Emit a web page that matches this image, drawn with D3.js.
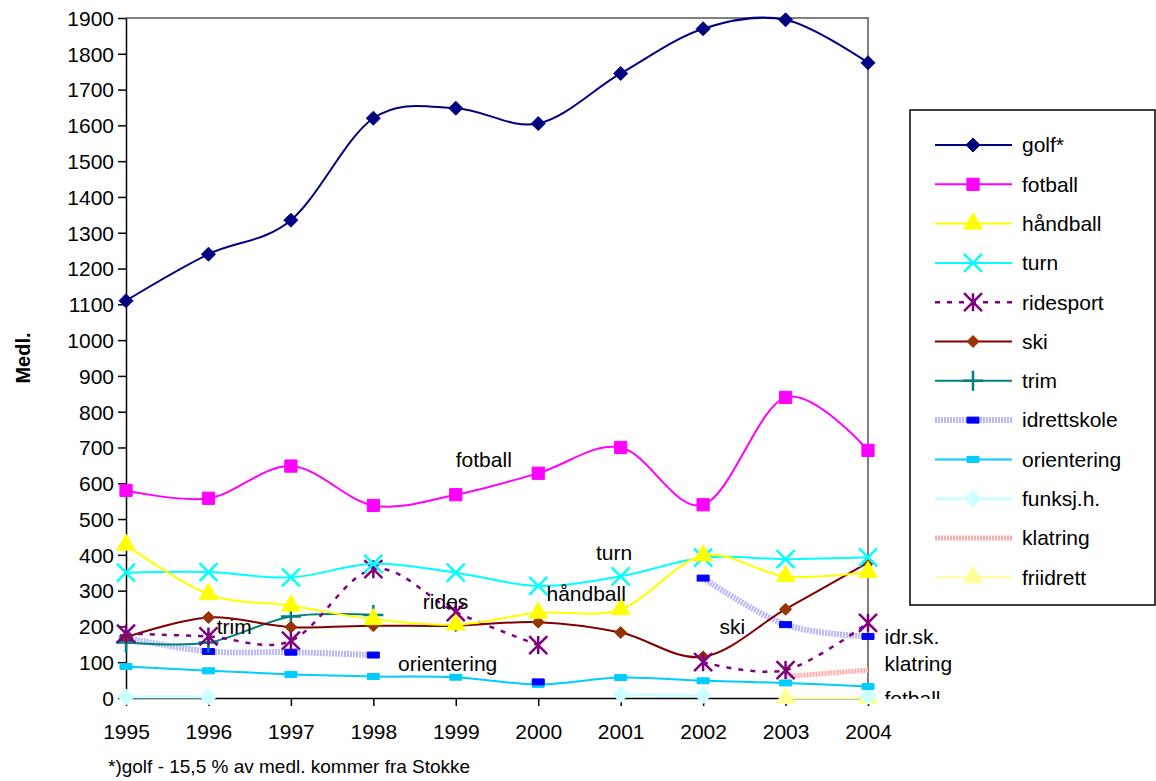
<!DOCTYPE html>
<html><head><meta charset="utf-8">
<script src="https://cdn.jsdelivr.net/npm/d3@7"></script>
<style>body{margin:0;background:#fff;font-family:"Liberation Sans",Arial,sans-serif}</style>
</head><body>
<script>
var width = 1156, height = 781;
var years = [1995,1996,1997,1998,1999,2000,2001,2002,2003,2004];
var yTicks = d3.range(0, 2000, 100);

var golf        = [1110,1240,1335,1620,1648,1605,1745,1870,1895,1775];
var fotball     = [580,558,648,538,568,628,700,540,840,692];
var handball    = [428,290,258,220,205,238,248,398,340,352];
var turn        = [350,352,337,375,350,313,340,392,388,393];
var ridesport   = [180,172,160,360,240,148,null,100,78,210];
var ski         = [170,225,198,202,202,212,183,115,248,378];
var trim        = [155,155,228,232,null,null,null,null,null,null];
var idrettskole = [168,130,128,120,null,45,null,335,205,172];
var orientering = [88,76,66,60,58,38,57,48,42,32];
var funksjh     = [3,3,null,null,null,null,10,7,null,5];
var klatring    = [null,null,null,null,null,null,null,null,60,78];
var friidrett   = [null,null,null,null,null,null,null,null,0,0];

var series = [
  {name:"golf*", v:golf, color:"#000080", width:2, marker:"diamond", mcolor:"#000080", size:7},
  {name:"fotball", v:fotball, color:"#ff00ff", width:2, marker:"square", mcolor:"#ff00ff", size:150},
  {name:"håndball", v:handball, color:"#ffff00", width:2, marker:"triangle", mcolor:"#ffff00", size:150},
  {name:"turn", v:turn, color:"#00ffff", width:2, marker:"x", mcolor:"#00ffff", size:9},
  {name:"ridesport", v:ridesport, color:"#800080", width:2.5, dash:"5,7", marker:"star", mcolor:"#800080", size:9},
  {name:"ski", v:ski, color:"#800000", width:2, marker:"diamond", mcolor:"#993300", size:6},
  {name:"trim", v:trim, color:"#008080", width:2, marker:"plus", mcolor:"#008080", size:10},
  {name:"idrettskole", v:idrettskole, color:"#b8b8f4", width:6, dash:"2,1", marker:"dash", mcolor:"#0000ff", size:12},
  {name:"orientering", v:orientering, color:"#00ccff", width:2, marker:"dash", mcolor:"#00ccff", size:12},
  {name:"funksj.h.", v:funksjh, color:"#ccffff", width:3, marker:"diamond", mcolor:"#ccffff", size:8},
  {name:"klatring", v:klatring, color:"#ffaaaa", width:5, dash:"2,1", marker:"none"},
  {name:"friidrett", v:friidrett, color:"#ffff99", width:2, marker:"triangle", mcolor:"#ffff99", size:150}
];

var labels = [
  {t:"golf*", x:1000.5, y:1712},
  {t:"fotball", x:1999.0, y:645},
  {t:"turn", x:2000.7, y:385},
  {t:"håndball", x:2000.1, y:270},
  {t:"rides", x:1998.6, y:250},
  {t:"trim", x:1996.1, y:180},
  {t:"ski", x:2002.2, y:180},
  {t:"orientering", x:1998.3, y:75},
  {t:"idr.sk.", x:2004.2, y:150},
  {t:"klatring", x:2004.2, y:75},
  {t:"fotball", x:2004.2, y:-22}
];

var svg = d3.select("body").append("svg").attr("width", width).attr("height", height)
  .style("font-family","'Liberation Sans',Arial,sans-serif");
var x = d3.scaleLinear().domain([1995, 2004]).range([126, 868]);
var y = d3.scaleLinear().domain([0, 1900]).range([698, 18]);

svg.append("path").attr("d","M126,18H868V698").attr("fill","none").attr("stroke","#808080").attr("stroke-width",2);

var yAxis = svg.append("g").attr("transform","translate(126,0)")
  .call(d3.axisLeft(y).tickValues(yTicks).tickFormat(d3.format("d")).tickSize(8).tickSizeOuter(0));
var xAxis = svg.append("g").attr("transform","translate(0,698)")
  .call(d3.axisBottom(x).tickValues(years).tickFormat(d3.format("d")).tickSize(8).tickSizeOuter(0));
[yAxis, xAxis].forEach(function(a){
  a.selectAll("path,line").attr("stroke","#000").attr("stroke-width",1.5);
  a.selectAll("text").attr("font-size",21).attr("font-family","'Liberation Sans',Arial,sans-serif").attr("fill","#000");
});
yAxis.selectAll("text").attr("dy","0.35em").attr("x",-12);
xAxis.selectAll("text").attr("dy","1.45em");

svg.append("text").attr("transform","translate(30,358) rotate(-90)").attr("text-anchor","middle")
  .attr("font-size",20).attr("font-weight","bold").text("Medl.");
svg.append("text").attr("x",108).attr("y",773).attr("font-size",19).text("*)golf - 15,5 % av medl. kommer fra Stokke");

function markerPath(m, s){
  if (m === "diamond") return "M0,"+(-s)+"L"+s+",0L0,"+s+"L"+(-s)+",0Z";
  if (m === "square") return d3.symbol(d3.symbolSquare, s)();
  if (m === "triangle") return d3.symbol(d3.symbolTriangle, s)();
  if (m === "x") return "M"+(-s)+","+(-s)+"L"+s+","+s+"M"+(-s)+","+s+"L"+s+","+(-s);
  if (m === "plus") return "M"+(-s)+",0H"+s+"M0,"+(-s)+"V"+s;
  if (m === "star") return "M"+(-s)+","+(-s)+"L"+s+","+s+"M"+(-s)+","+s+"L"+s+","+(-s)+"M0,"+(-s)+"V"+s;
  if (m === "dash") return "M"+(-s/2)+",-3h"+s+"v6h"+(-s)+"z";
  return "";
}
function drawMarker(g, d, px, py){
  if (d.marker === "none") return;
  var open = d.marker === "x" || d.marker === "plus" || d.marker === "star";
  g.append("path").attr("d", markerPath(d.marker, d.size)).attr("transform","translate("+px+","+py+")")
    .attr("fill", open ? "none" : d.mcolor).attr("stroke", d.mcolor).attr("stroke-width", open ? 2.5 : 1);
}

var line = d3.line().defined(function(d){ return d != null; })
  .x(function(d,i){ return x(years[i]); }).y(function(d){ return y(d); })
  .curve(d3.curveCardinal.tension(0));

series.slice().reverse().forEach(function(d){
  var g = svg.append("g");
  g.append("path").attr("d", line(d.v)).attr("fill","none").attr("stroke", d.color)
    .attr("stroke-width", d.width).attr("stroke-dasharray", d.dash || null);
  d.v.forEach(function(v,i){ if (v != null) drawMarker(g, d, x(years[i]), y(v)); });
});

svg.append("clipPath").attr("id","clipLbl").append("rect").attr("x",0).attr("y",0).attr("width",width).attr("height",699);
svg.append("g").attr("clip-path","url(#clipLbl)").selectAll("text").data(labels).enter().append("text")
  .attr("x", function(d){ return x(d.x); }).attr("y", function(d){ return y(d.y); })
  .attr("font-size",21).text(function(d){ return d.t; });

var lg = svg.append("g");
lg.append("rect").attr("x",910).attr("y",110).attr("width",245).attr("height",495).attr("fill","#fff").attr("stroke","#000").attr("stroke-width",1.5);
series.forEach(function(d,i){
  var ly = 145 + i*39.3;
  var g = lg.append("g");
  g.append("line").attr("x1",935).attr("x2",1012).attr("y1",ly).attr("y2",ly).attr("stroke",d.color)
    .attr("stroke-width",d.width).attr("stroke-dasharray",d.dash || null);
  drawMarker(g, d, 973, ly);
  g.append("text").attr("x",1022).attr("y",ly).attr("dy","0.35em").attr("font-size",21).text(d.name);
});
</script>
</body></html>
